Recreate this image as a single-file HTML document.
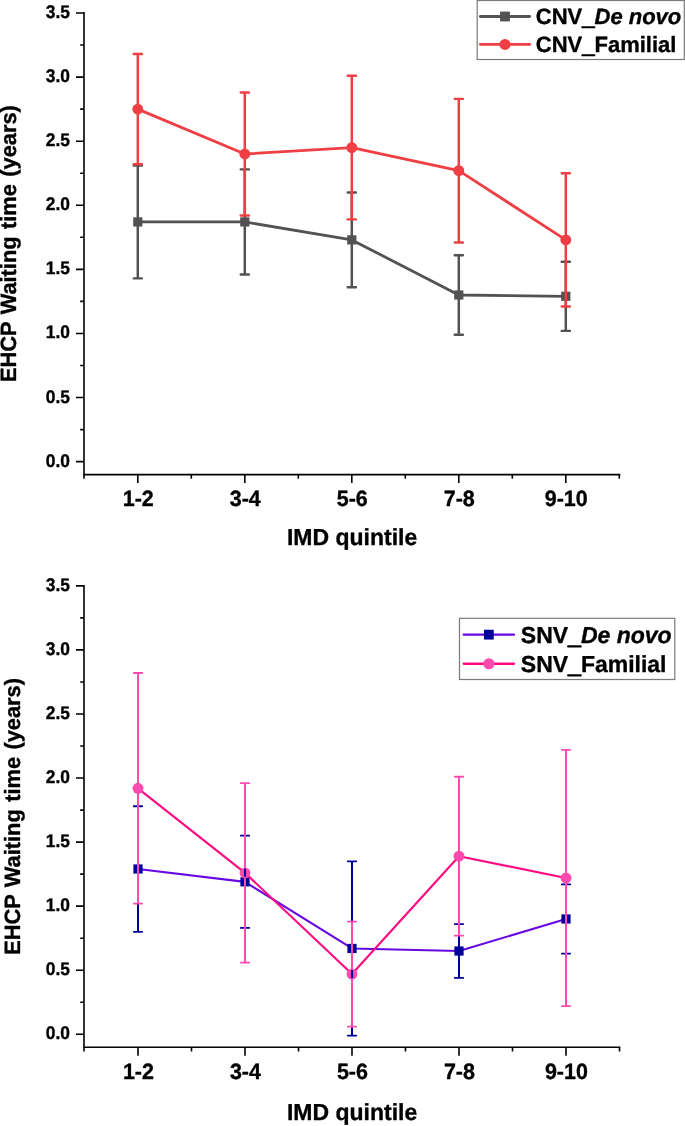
<!DOCTYPE html>
<html lang="en">
<head>
<meta charset="utf-8">
<title>EHCP Waiting time by IMD quintile</title>
<style>
html,body{margin:0;padding:0;background:#fff;}
svg{display:block;}
text{font-family:"Liberation Sans",Arial,Helvetica,sans-serif;font-weight:bold;fill:#000;text-rendering:geometricPrecision;stroke:#000;stroke-width:0.35px;stroke-linejoin:round;}
.u{stroke-width:1.3px;}
.yt{word-spacing:1.4px;}
</style>
</head>
<body>
<svg width="685" height="1126" viewBox="0 0 685 1126">
<rect width="685" height="1126" fill="#fff"/>
<g id="chart-cnv">
<path d="M84.0 12.10V474.6H620.3" fill="none" stroke="#000" stroke-width="1.6"/>
<path d="M76.0 461.65H84.0M76.0 397.56H84.0M76.0 333.46H84.0M76.0 269.37H84.0M76.0 205.28H84.0M76.0 141.19H84.0M76.0 77.09H84.0M76.0 13.00H84.0M80.2 429.60H84.0M80.2 365.51H84.0M80.2 301.42H84.0M80.2 237.32H84.0M80.2 173.23H84.0M80.2 109.14H84.0M80.2 45.05H84.0M137.80 474.6V483.1M244.80 474.6V483.1M351.80 474.6V483.1M458.80 474.6V483.1M565.80 474.6V483.1M191.30 474.6V478.8M298.30 474.6V478.8M405.30 474.6V478.8M512.30 474.6V478.8M619.30 474.6V478.8M84.0 474.6V478.8" fill="none" stroke="#000" stroke-width="1.6"/>
<text class="b" font-size="18.33" transform="translate(69.90 466.60) scale(0.9466 1)" text-anchor="end">0.0</text>
<text class="b" font-size="18.33" transform="translate(69.90 402.51) scale(0.9466 1)" text-anchor="end">0.5</text>
<text class="b" font-size="18.33" transform="translate(69.90 338.41) scale(0.9466 1)" text-anchor="end">1.0</text>
<text class="b" font-size="18.33" transform="translate(69.90 274.32) scale(0.9466 1)" text-anchor="end">1.5</text>
<text class="b" font-size="18.33" transform="translate(69.90 210.23) scale(0.9466 1)" text-anchor="end">2.0</text>
<text class="b" font-size="18.33" transform="translate(69.90 146.14) scale(0.9466 1)" text-anchor="end">2.5</text>
<text class="b" font-size="18.33" transform="translate(69.90 82.04) scale(0.9466 1)" text-anchor="end">3.0</text>
<text class="b" font-size="18.33" transform="translate(69.90 17.95) scale(0.9466 1)" text-anchor="end">3.5</text>
<text class="b" font-size="22.14" transform="translate(138.20 505.90) scale(0.9709 1)" text-anchor="middle">1-2</text>
<text class="b" font-size="22.14" transform="translate(245.20 505.90) scale(0.9709 1)" text-anchor="middle">3-4</text>
<text class="b" font-size="22.14" transform="translate(352.20 505.90) scale(0.9709 1)" text-anchor="middle">5-6</text>
<text class="b" font-size="22.14" transform="translate(459.20 505.90) scale(0.9709 1)" text-anchor="middle">7-8</text>
<text class="b" font-size="22.14" transform="translate(566.20 505.90) scale(0.9709 1)" text-anchor="middle">9-10</text>
<text class="b" font-size="23.11" transform="translate(352.10 544.60) scale(0.9950 1)" text-anchor="middle">IMD quintile</text>
<text class="yt" font-size="22.11" transform="translate(16.25 243.60) rotate(-90) scale(0.9861 1)" text-anchor="middle">EHCP Waiting time (years)</text>
<path d="M137.80 221.94L244.80 221.94L351.80 239.89L458.80 295.01L565.80 296.29" fill="none" stroke="#525252" stroke-width="2.8" stroke-linejoin="round"/>
<rect x="133.20" y="217.34" width="9.2" height="9.2" fill="#525252"/>
<rect x="240.20" y="217.34" width="9.2" height="9.2" fill="#525252"/>
<rect x="347.20" y="235.29" width="9.2" height="9.2" fill="#525252"/>
<rect x="454.20" y="290.41" width="9.2" height="9.2" fill="#525252"/>
<rect x="561.20" y="291.69" width="9.2" height="9.2" fill="#525252"/>
<path d="M137.80 109.14L244.80 154.00L351.80 147.59L458.80 170.67L565.80 239.89" fill="none" stroke="#f03f44" stroke-width="2.8" stroke-linejoin="round"/>
<circle cx="137.80" cy="109.14" r="5.45" fill="#f03f44"/>
<circle cx="244.80" cy="154.00" r="5.45" fill="#f03f44"/>
<circle cx="351.80" cy="147.59" r="5.45" fill="#f03f44"/>
<circle cx="458.80" cy="170.67" r="5.45" fill="#f03f44"/>
<circle cx="565.80" cy="239.89" r="5.45" fill="#f03f44"/>
<path d="M137.80 278.34V225.94M137.80 217.94V165.54M244.80 274.50V225.94M244.80 217.94V169.39M351.80 287.32V243.89M351.80 235.89V192.46M458.80 334.75V299.01M458.80 291.01V255.27M565.80 330.90V300.29M565.80 292.29V261.68" fill="none" stroke="#525252" stroke-width="2.5"/>
<path d="M133.70 278.34h8.20M133.70 165.54h8.20M240.70 274.50h8.20M240.70 169.39h8.20M347.70 287.32h8.20M347.70 192.46h8.20M454.70 334.75h8.20M454.70 255.27h8.20M561.70 330.90h8.20M561.70 261.68h8.20" fill="none" stroke="#525252" stroke-width="2.4" stroke-linecap="round"/>
<path d="M137.80 164.26V113.14M137.80 105.14V54.02M244.80 215.53V158.00M244.80 150.00V92.48M351.80 219.38V151.59M351.80 143.59V75.81M458.80 242.45V174.67M458.80 166.67V98.88M565.80 306.55V243.89M565.80 235.89V173.23" fill="none" stroke="#f03f44" stroke-width="2.5"/>
<path d="M133.70 164.26h8.20M133.70 54.02h8.20M240.70 215.53h8.20M240.70 92.48h8.20M347.70 219.38h8.20M347.70 75.81h8.20M454.70 242.45h8.20M454.70 98.88h8.20M561.70 306.55h8.20M561.70 173.23h8.20" fill="none" stroke="#f03f44" stroke-width="2.4" stroke-linecap="round"/>
<rect x="477.2" y="0.5" width="207.1" height="59" fill="#fff" stroke="#7a7a7a" stroke-width="1.2"/>
<path d="M480.40 16.5H529.60" stroke="#525252" stroke-width="2.8" stroke-linecap="round"/>
<rect x="500.10" y="11.60" width="9.8" height="9.8" fill="#525252"/>
<text class="b" font-size="22.11" transform="translate(535.80 23.65) scale(0.9950 1)">CNV<tspan class="u" dy="1">_</tspan><tspan font-style="italic" dy="-1">De novo</tspan></text>
<path d="M480.40 44.4H529.60" stroke="#f03f44" stroke-width="2.8" stroke-linecap="round"/>
<circle cx="505.00" cy="44.4" r="5.5" fill="#f03f44"/>
<text class="b" font-size="22.11" transform="translate(535.80 51.55) scale(0.9950 1)">CNV<tspan class="u" dy="1">_</tspan><tspan dy="-1">Familial</tspan></text>
</g>
<g id="chart-snv">
<path d="M84.0 584.95V1047.3H620.3" fill="none" stroke="#000" stroke-width="1.6"/>
<path d="M76.0 1034.30H84.0M76.0 970.24H84.0M76.0 906.17H84.0M76.0 842.11H84.0M76.0 778.04H84.0M76.0 713.98H84.0M76.0 649.91H84.0M76.0 585.85H84.0M80.2 1002.27H84.0M80.2 938.20H84.0M80.2 874.14H84.0M80.2 810.08H84.0M80.2 746.01H84.0M80.2 681.95H84.0M80.2 617.88H84.0M138.00 1047.3V1055.8M245.00 1047.3V1055.8M352.00 1047.3V1055.8M459.00 1047.3V1055.8M566.00 1047.3V1055.8M191.50 1047.3V1051.5M298.50 1047.3V1051.5M405.50 1047.3V1051.5M512.50 1047.3V1051.5M619.50 1047.3V1051.5M84.0 1047.3V1051.5" fill="none" stroke="#000" stroke-width="1.6"/>
<text class="b" font-size="18.33" transform="translate(69.90 1039.45) scale(0.9466 1)" text-anchor="end">0.0</text>
<text class="b" font-size="18.33" transform="translate(69.90 975.39) scale(0.9466 1)" text-anchor="end">0.5</text>
<text class="b" font-size="18.33" transform="translate(69.90 911.32) scale(0.9466 1)" text-anchor="end">1.0</text>
<text class="b" font-size="18.33" transform="translate(69.90 847.26) scale(0.9466 1)" text-anchor="end">1.5</text>
<text class="b" font-size="18.33" transform="translate(69.90 783.19) scale(0.9466 1)" text-anchor="end">2.0</text>
<text class="b" font-size="18.33" transform="translate(69.90 719.13) scale(0.9466 1)" text-anchor="end">2.5</text>
<text class="b" font-size="18.33" transform="translate(69.90 655.06) scale(0.9466 1)" text-anchor="end">3.0</text>
<text class="b" font-size="18.33" transform="translate(69.90 591.00) scale(0.9466 1)" text-anchor="end">3.5</text>
<text class="b" font-size="22.14" transform="translate(138.40 1079.10) scale(0.9709 1)" text-anchor="middle">1-2</text>
<text class="b" font-size="22.14" transform="translate(245.40 1079.10) scale(0.9709 1)" text-anchor="middle">3-4</text>
<text class="b" font-size="22.14" transform="translate(352.40 1079.10) scale(0.9709 1)" text-anchor="middle">5-6</text>
<text class="b" font-size="22.14" transform="translate(459.40 1079.10) scale(0.9709 1)" text-anchor="middle">7-8</text>
<text class="b" font-size="22.14" transform="translate(566.40 1079.10) scale(0.9709 1)" text-anchor="middle">9-10</text>
<text class="b" font-size="23.11" transform="translate(352.10 1120.30) scale(0.9950 1)" text-anchor="middle">IMD quintile</text>
<text class="yt" font-size="22.11" transform="translate(20.30 816.40) rotate(-90) scale(0.9861 1)" text-anchor="middle">EHCP Waiting time (years)</text>
<path d="M138.00 869.01L245.00 881.83L352.00 948.45L459.00 951.02L566.00 918.98" fill="none" stroke="#6608e2" stroke-width="2.15" stroke-linejoin="round"/>
<rect x="133.40" y="864.41" width="9.2" height="9.2" fill="#000099"/>
<rect x="240.40" y="877.23" width="9.2" height="9.2" fill="#000099"/>
<rect x="347.40" y="943.85" width="9.2" height="9.2" fill="#000099"/>
<rect x="454.40" y="946.42" width="9.2" height="9.2" fill="#000099"/>
<rect x="561.40" y="914.38" width="9.2" height="9.2" fill="#000099"/>
<path d="M138.00 788.29L245.00 872.86L352.00 974.08L459.00 856.20L566.00 877.98" fill="none" stroke="#ff0a80" stroke-width="2.15" stroke-linejoin="round"/>
<circle cx="138.00" cy="788.29" r="5.45" fill="#ff4ab0"/>
<circle cx="245.00" cy="872.86" r="5.45" fill="#ff4ab0"/>
<circle cx="352.00" cy="974.08" r="5.45" fill="#ff4ab0"/>
<circle cx="459.00" cy="856.20" r="5.45" fill="#ff4ab0"/>
<circle cx="566.00" cy="877.98" r="5.45" fill="#ff4ab0"/>
<path d="M138.00 931.80V873.01M138.00 865.01V806.23M245.00 927.95V885.83M245.00 877.83V835.70M352.00 1035.58V952.45M352.00 944.45V861.33M459.00 977.92V955.02M459.00 947.02V924.11M566.00 953.58V922.98M566.00 914.98V884.39" fill="none" stroke="#000099" stroke-width="2.0"/>
<path d="M133.80 931.80h8.40M133.80 806.23h8.40M240.80 927.95h8.40M240.80 835.70h8.40M347.80 1035.58h8.40M347.80 861.33h8.40M454.80 977.92h8.40M454.80 924.11h8.40M561.80 953.58h8.40M561.80 884.39h8.40" fill="none" stroke="#000099" stroke-width="1.8" stroke-linecap="round"/>
<path d="M138.00 903.61V792.29M138.00 784.29V672.98M245.00 962.55V876.86M245.00 868.86V783.17M352.00 1026.61V978.08M352.00 970.08V921.55M459.00 935.64V860.20M459.00 852.20V776.76M566.00 1006.11V881.98M566.00 873.98V749.85" fill="none" stroke="#ff4ab0" stroke-width="2.0"/>
<path d="M133.80 903.61h8.40M133.80 672.98h8.40M240.80 962.55h8.40M240.80 783.17h8.40M347.80 1026.61h8.40M347.80 921.55h8.40M454.80 935.64h8.40M454.80 776.76h8.40M561.80 1006.11h8.40M561.80 749.85h8.40" fill="none" stroke="#ff4ab0" stroke-width="1.8" stroke-linecap="round"/>
<rect x="459.5" y="618.3" width="215.3" height="61.2" fill="#fff" stroke="#7a7a7a" stroke-width="1.2"/>
<path d="M463.70 634.65H514.00" stroke="#6608e2" stroke-width="2.3" stroke-linecap="round"/>
<rect x="483.95" y="629.75" width="9.8" height="9.8" fill="#000099"/>
<text class="b" font-size="23.11" transform="translate(520.80 642.75) scale(0.9950 1)">SNV<tspan class="u" dy="1">_</tspan><tspan font-style="italic" dy="-1">De novo</tspan></text>
<path d="M463.70 663.75H514.00" stroke="#ff0a80" stroke-width="2.3" stroke-linecap="round"/>
<circle cx="488.85" cy="663.75" r="5.5" fill="#ff4ab0"/>
<text class="b" font-size="23.11" transform="translate(520.80 671.85) scale(0.9950 1)">SNV<tspan class="u" dy="1">_</tspan><tspan dy="-1">Familial</tspan></text>
</g>
</svg>
</body>
</html>
